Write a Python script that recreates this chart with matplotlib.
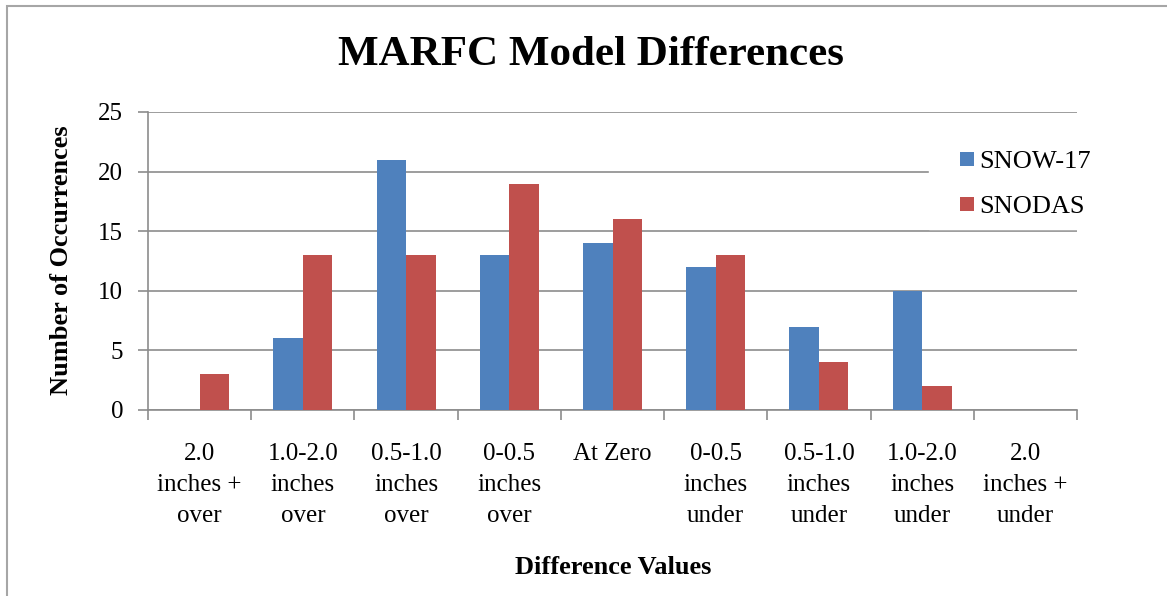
import matplotlib.pyplot as plt
import numpy as np
from matplotlib.patches import Rectangle
from matplotlib.container import BarContainer
from matplotlib.legend_handler import HandlerPatch

categories = [
    "2.0\ninches +\nover",
    "1.0-2.0\ninches\nover",
    "0.5-1.0\ninches\nover",
    "0-0.5\ninches\nover",
    "At Zero",
    "0-0.5\ninches\nunder",
    "0.5-1.0\ninches\nunder",
    "1.0-2.0\ninches\nunder",
    "2.0\ninches +\nunder",
]
snow17 = [0, 6, 21, 13, 14, 12, 7, 10, 0]
snodas = [3, 13, 13, 19, 16, 13, 4, 2, 0]
y_ticks = [0, 5, 10, 15, 20, 25]

plt.rcParams["font.family"] = ["Liberation Serif", "DejaVu Serif"]

fig = plt.figure(figsize=(11.67, 5.96), dpi=100)
ax = fig.add_axes([148 / 1167, 1 - 410 / 596, (1077 - 148) / 1167, (410 - 112) / 596])

grid_c = "#8c8c8c"
x = np.arange(len(categories))
w = 0.286
ax.bar(x - w / 2, snow17, w, color="#4F81BD", label="SNOW-17", zorder=3)
ax.bar(x + w / 2, snodas, w, color="#C0504D", label="SNODAS", zorder=3)

ax.set_xlim(-0.5, len(categories) - 0.5)
ax.set_ylim(0, 25)
ax.set_yticks(y_ticks)
ax.set_xticks(x)
ax.set_xticklabels(categories, fontsize=18, linespacing=1.53)
ax.set_xticks(np.arange(-0.5, len(categories)), minor=True)
ax.tick_params(axis="x", which="major", length=0, pad=23.5)
ax.tick_params(axis="x", which="minor", length=7, color=grid_c, width=1.2)
ax.tick_params(axis="y", labelsize=18, length=7, color=grid_c, width=1.2, pad=11)

ax.yaxis.grid(True, color=grid_c, linewidth=1.2, zorder=0)
for s in ["top", "right"]:
    ax.spines[s].set_visible(False)
for s in ["left", "bottom"]:
    ax.spines[s].set_color(grid_c)
    ax.spines[s].set_linewidth(1.2)


# small square key sitting at the right end of the handle box
def square_key(legend, orig_handle, xdescent, ydescent, width, height, fontsize):
    s = 0.52 * fontsize
    return Rectangle((width - s - xdescent, (height - s) / 2 - ydescent), s, s)


def first_bar_style(legend_handle, orig_handle):
    legend_handle.update_from(orig_handle.patches[0])


# white legend box hides the gridline behind it, like the original
leg = ax.legend(loc="upper left", bbox_to_anchor=(929 / 1167, 1 - 139 / 596),
                bbox_transform=fig.transFigure, fontsize=19, frameon=True,
                fancybox=False, edgecolor="white", facecolor="white", framealpha=1,
                borderpad=0.4, borderaxespad=0, handlelength=1.3, handleheight=0.7,
                handletextpad=0.2, labelspacing=0.83,
                handler_map={BarContainer: HandlerPatch(patch_func=square_key,
                                                        update_func=first_bar_style)})
leg.set_zorder(5)

fig.text(591 / 1167, 1 - 55 / 596, "MARFC Model Differences", ha="center", va="center",
         fontsize=31, fontweight="bold")
fig.text(62 / 1167, 1 - 260 / 596, "Number of Occurrences", ha="center", va="center",
         rotation=90, fontsize=19, fontweight="bold")
fig.text(613 / 1167, 1 - 568 / 596, "Difference Values", ha="center", va="center",
         fontsize=19, fontweight="bold")

fig.patches.append(Rectangle((7 / 1167, -0.1), 1.2, 1.1 - 6 / 596, transform=fig.transFigure,
                             fill=False, edgecolor="#a6a6a6", linewidth=1.5))

plt.savefig("out.png", dpi=100)
plt.close()
